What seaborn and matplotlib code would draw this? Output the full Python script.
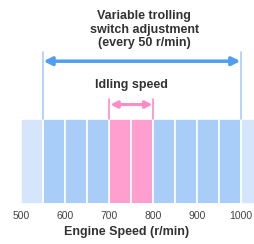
import matplotlib
matplotlib.use('Agg')
import matplotlib.pyplot as plt
import seaborn as sns
import numpy as np
import pandas as pd

# cells of 50 r/min along the engine speed scale
cell_start = [500, 550, 600, 650, 700, 750, 800, 850, 900, 950, 1000]
cell_zone = ['outside', 'adjust', 'adjust', 'adjust', 'idle', 'idle',
             'adjust', 'adjust', 'adjust', 'adjust', 'outside']
tick_values = [500, 600, 700, 800, 900, 1000]
adjust_range = (550, 1000)
idle_range = (700, 800)

ZONE_COLORS = {'outside': '#d5e6fc', 'adjust': '#a8cdf8', 'idle': '#ff9fcf'}
BLUE = '#4f9ef3'
PINK = '#ff8cc6'

sns.set_theme(style='white')
plt.rcParams['font.family'] = ['Liberation Sans', 'DejaVu Sans']

df = pd.DataFrame({'rpm': np.array(cell_start) + 25, 'zone': cell_zone,
                   'w': np.ones(len(cell_start))})
edges = list(cell_start) + [cell_start[-1] + 50]

fig = plt.figure(figsize = (2.54, 2.44), dpi = 100)
ax = fig.add_axes([0, 40 / 244, 1, 85 / 244])

sns.histplot(data = df, x = 'rpm', weights = 'w', bins = edges, hue = 'zone',
             palette = ZONE_COLORS, multiple = 'layer', alpha = 1,
             edgecolor = 'white', linewidth = 1.2, legend = False, ax = ax)

ax.set_xlim(452, 1030)
ax.set_ylim(0, 1)
ax.set_yticks([])
ax.set_ylabel('')
ax.set_xticks(tick_values)
ax.set_xticklabels([str(v) for v in tick_values])
ax.tick_params(axis = 'x', length = 0, pad = 5, labelsize = 7.5, labelcolor = '#444444')
ax.set_xlabel('Engine Speed (r/min)', fontsize = 9, fontweight = 'bold',
              color = '#333333', labelpad = 4)
for s in ax.spines.values():
    s.set_visible(False)

# adjustment range bracket
for xv in adjust_range:
    ax.plot([xv, xv], [1.0, 1.79], color = '#a8cdf8', lw = 1.2, clip_on = False)
ax.annotate('', xy = (adjust_range[0] + 1, 1.68), xytext = (adjust_range[1] - 1, 1.68),
            arrowprops = dict(arrowstyle = '<|-|>', color = BLUE, lw = 2.5,
                              mutation_scale = 12, shrinkA = 0, shrinkB = 0),
            annotation_clip = False)
ax.text(780, 2.05, 'Variable trolling\nswitch adjustment\n(every 50 r/min)',
        ha = 'center', va = 'center', fontsize = 9, fontweight = 'bold',
        color = '#333333', linespacing = 1.15, clip_on = False)

# idling range bracket
for xv in idle_range:
    ax.plot([xv, xv], [1.0, 1.23], color = PINK, lw = 1.2, clip_on = False)
ax.annotate('', xy = (idle_range[0] + 3, 1.17), xytext = (idle_range[1] - 1, 1.17),
            arrowprops = dict(arrowstyle = '<|-|>', color = PINK, lw = 2.2,
                              mutation_scale = 10, shrinkA = 0, shrinkB = 0),
            annotation_clip = False)
ax.text(752, 1.4, 'Idling speed', ha = 'center', va = 'center', fontsize = 9,
        fontweight = 'bold', color = '#333333', clip_on = False)

fig.savefig('out.png', dpi = 100)
plt.close(fig)
